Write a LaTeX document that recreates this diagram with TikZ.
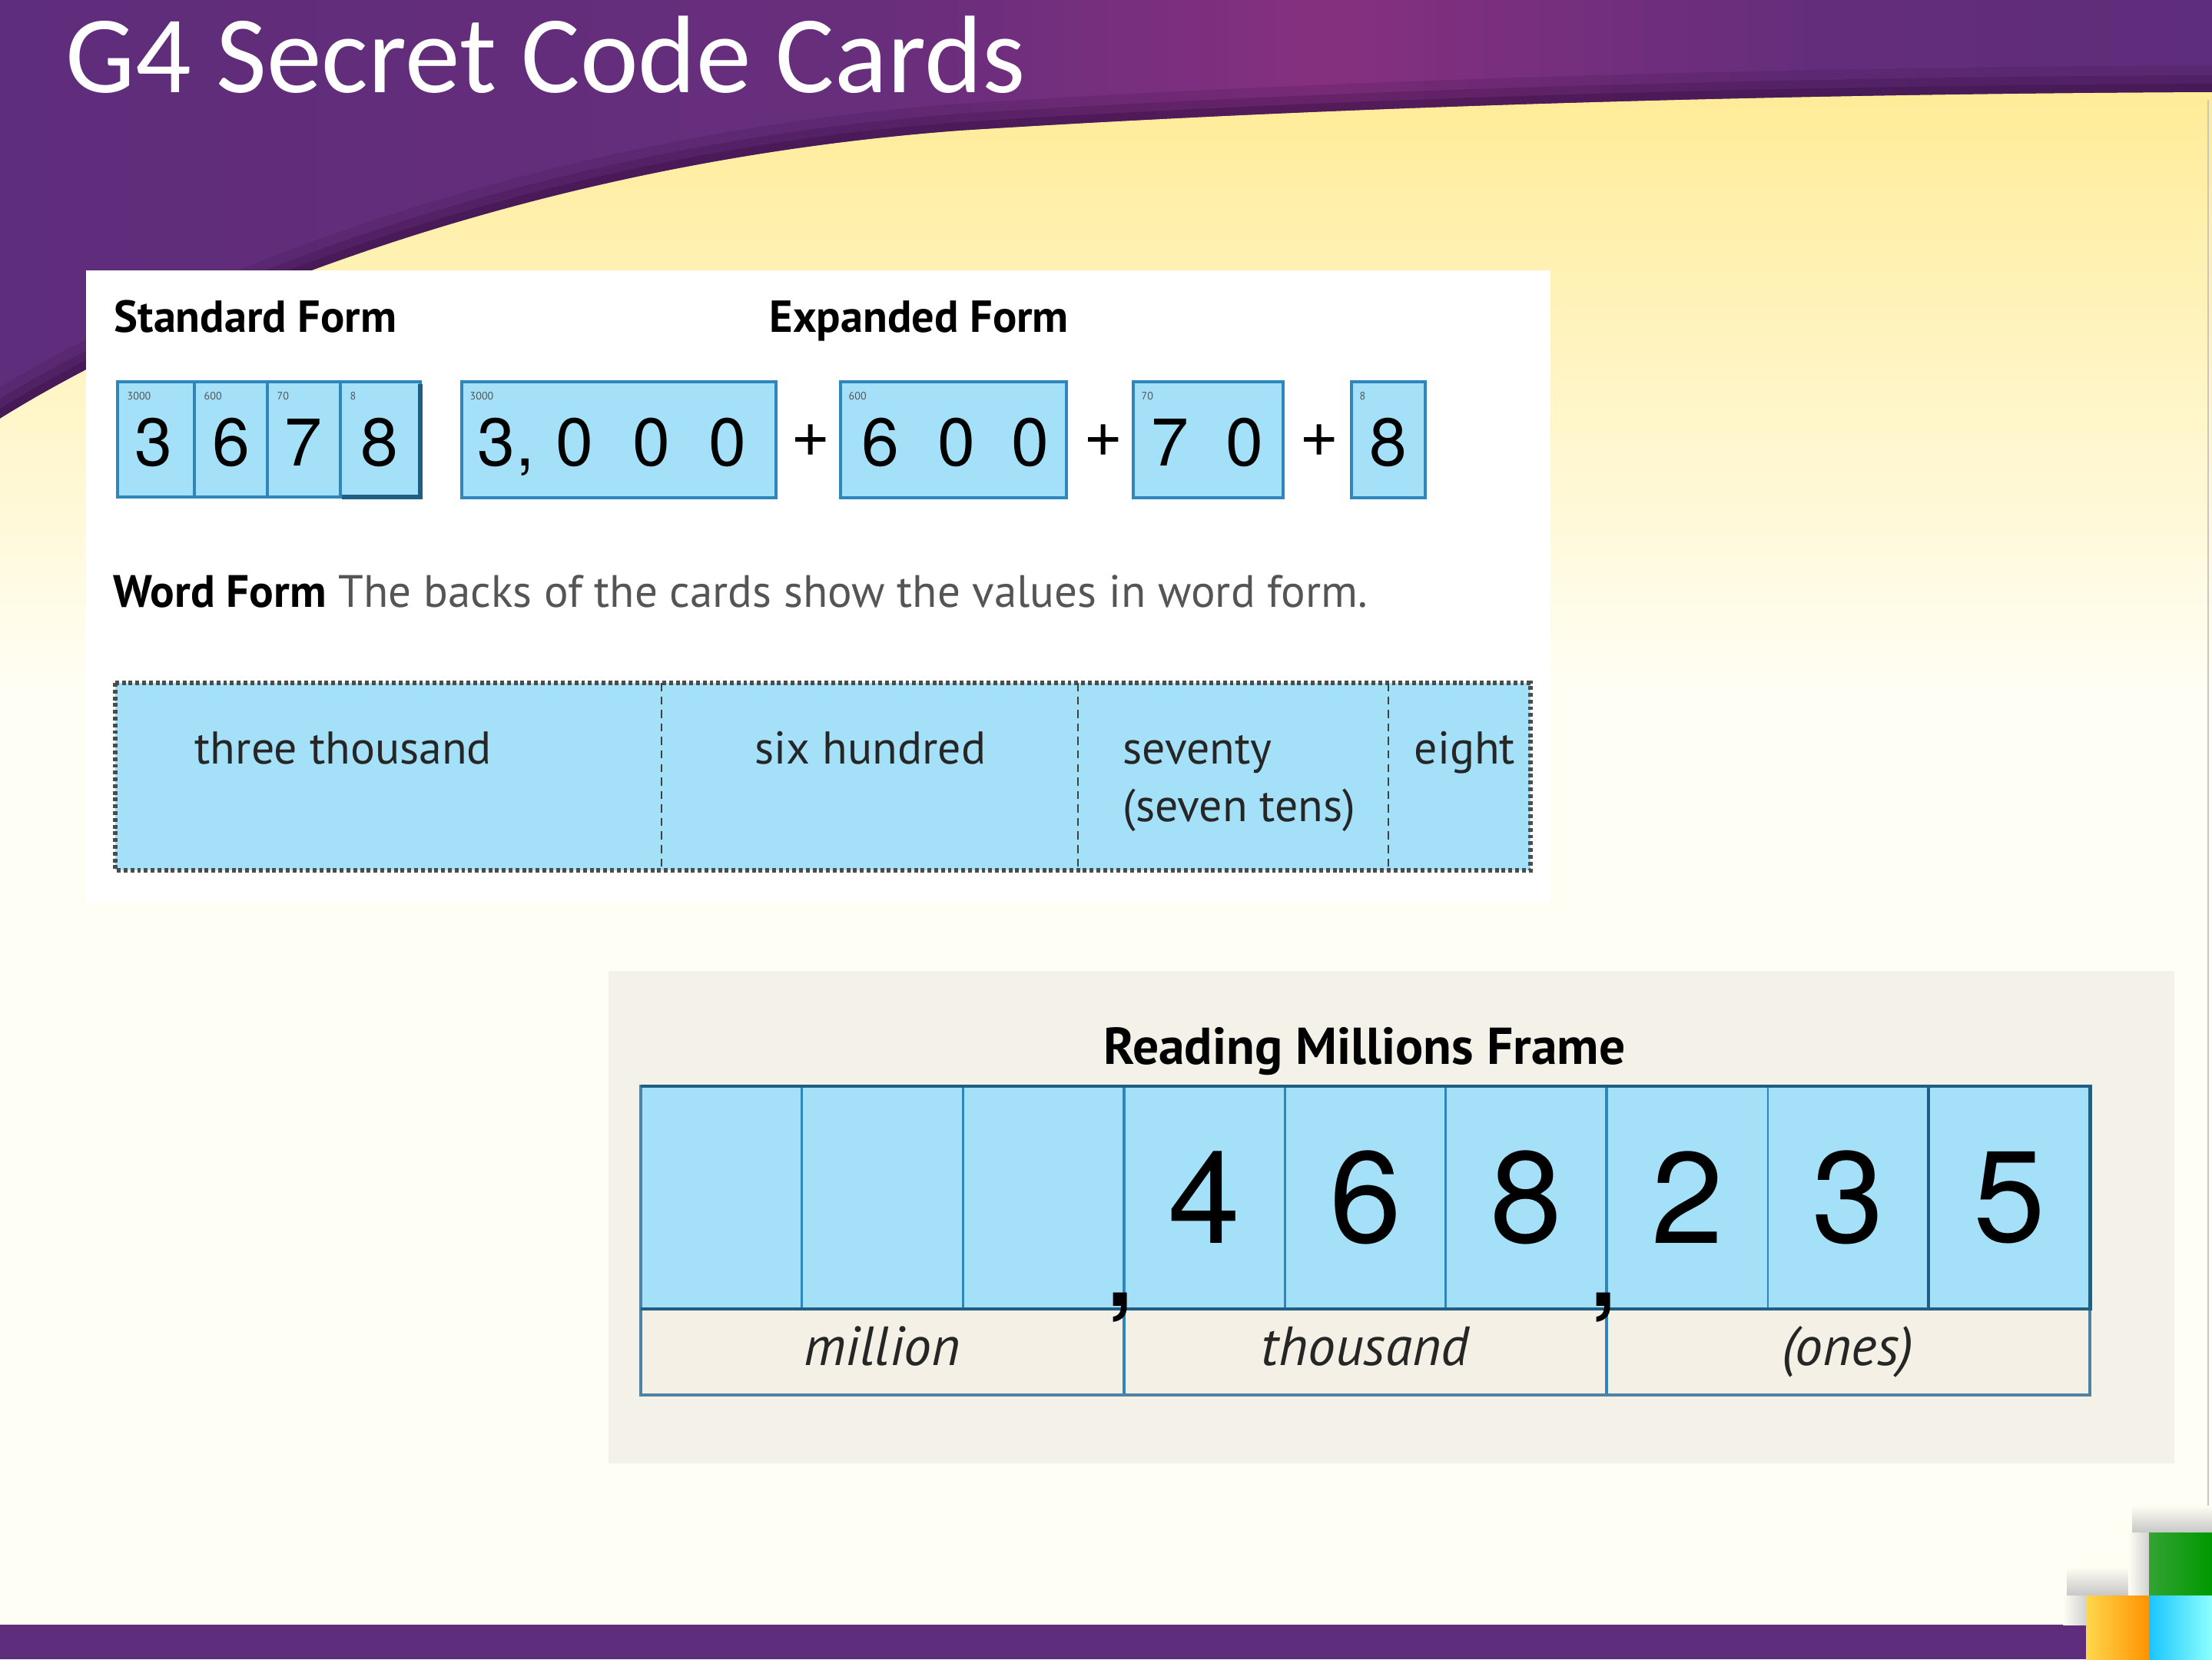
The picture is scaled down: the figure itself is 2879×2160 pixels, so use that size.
\documentclass[tikz,border=0pt]{standalone}
\usepackage{fontspec}
\setmainfont{PT Sans}
\newfontfamily\titlefont{Carlito}
\newfontfamily\digitfont{TeX Gyre Heros}
\usetikzlibrary{positioning}

\definecolor{hdrpurple}{HTML}{5E2D7B}
\definecolor{hdrmagenta}{HTML}{85307F}
\definecolor{hdrdark}{HTML}{3E1248}
\definecolor{creamtop}{HTML}{FFEC98}
\definecolor{creambg}{HTML}{FFFEF4}
\definecolor{cardblue}{HTML}{A4E0F8}
\definecolor{cardedge}{HTML}{2F86BC}
\definecolor{framebg}{HTML}{F3F1E8}
\definecolor{labelbg}{HTML}{F4F0E5}
\definecolor{textgray}{HTML}{555555}

\pgfdeclarehorizontalshading{headershade}{100bp}{color(0bp)=(hdrpurple); color(25bp)=(hdrpurple); color(45bp)=(hdrpurple!75!hdrmagenta); color(55bp)=(hdrmagenta); color(66bp)=(hdrpurple!85!hdrmagenta); color(75bp)=(hdrpurple); color(100bp)=(hdrpurple)}
\pgfdeclareverticalshading{creamshade}{100bp}{color(0bp)=(creambg); color(25bp)=(creambg); color(56bp)=(creambg); color(75bp)=(creamtop); color(100bp)=(creamtop)}

\tikzset{
  card/.style={fill=cardblue, draw=cardedge, line width=1.1pt},
  digit/.style={font=\digitfont\fontsize{25}{30}\selectfont, inner sep=0pt},
  bigdigit/.style={font=\digitfont\fontsize{48}{56}\selectfont, inner sep=0pt},
  tinylabel/.style={anchor=north west, font=\fontsize{4}{5}\selectfont, text=textgray, inner sep=0pt},
  heading/.style={anchor=base west, font=\bfseries\fontsize{16.6}{20}\selectfont, inner sep=0pt},
  wordtext/.style={anchor=base west, font=\fontsize{17}{20}\selectfont, text=black!85, inner sep=0pt},
  placelabel/.style={anchor=base, font=\itshape\fontsize{20.4}{24}\selectfont, text=black!85, inner sep=0pt}
}

\begin{document}
\begin{tikzpicture}[x=0.01cm, y=-0.01cm]
\useasboundingbox (0,0) rectangle (2879,2160);
\fill[creambg] (0,0) rectangle (2879,2160);

% header
\shade[shading=headershade] (0,0) -- (2879,0) -- (2879,120)
  .. controls (2400,122) and (1800,135) .. (1250,170)
  .. controls (650,215) and (200,420) .. (0,545) -- cycle;
\foreach \w/\o in {70/0.18,44/0.28,22/0.45}
  \draw[hdrdark, line width=\w*0.2845pt, opacity=\o] (2879,120)
    .. controls (2400,122) and (1800,135) .. (1250,170)
    .. controls (650,215) and (200,420) .. (0,545);
\shade[shading=creamshade] (0,545) .. controls (200,420) and (650,215) .. (1250,170)
  .. controls (1800,135) and (2400,122) .. (2879,120) -- (2879,2160) -- (0,2160) -- cycle;
\node[anchor=base west, text=white, font=\titlefont\fontsize{40.8}{48}\selectfont, inner sep=0pt] (title) at (85,120) {G4 Secret Code Cards};
\draw[gray!45, line width=0.6pt] (2874,130) -- (2874,1995);

% cards panel
\fill[white] (112,352) rectangle (2018,1175);
\node[heading] (stdhead) at (148,432) {Standard Form};
\node[heading] (exphead) at (1001,432) {Expanded Form};

\foreach \x/\v in {153/3000,253/600,348/70,443/8}
  \draw[card] (\x,497) rectangle (547,647);
\draw[cardedge!70!black, line width=1.6pt] (547,500) -- (547,647) -- (445,647);
\foreach \x/\v in {153/3000,253/600,348/70,443/8}
  \node[tinylabel] at (\x+12,510) {\v};
\node[digit] (s1) at (200,576) {3};
\node[digit] (s2) at (301,576) {6};
\node[digit] (s3) at (395,576) {7};
\node[digit] (s4) at (494,576) {8};

\draw[card] (601,497) rectangle (1010,648);
\draw[card] (1094,497) rectangle (1388,648);
\draw[card] (1475,497) rectangle (1670,648);
\draw[card] (1759,497) rectangle (1855,648);
\node[tinylabel] at (611,510) {3000};
\node[tinylabel] at (1104,510) {600};
\node[tinylabel] at (1485,510) {70};
\node[tinylabel] at (1769,510) {8};
\node[digit] (e1) at (646,576) {3};
\node[digit, anchor=base west] (ec) at (e1.base east) {,};
\foreach \x [count=\i] in {748,848,947}
  \node[digit] (ez\i) at (\x,576) {0};
\node[digit] (f1) at (1146,576) {6};
\node[digit] (f2) at (1245,576) {0};
\node[digit] (f3) at (1341,576) {0};
\node[digit] (g1) at (1523,576) {7};
\node[digit] (g2) at (1620,576) {0};
\node[digit] (h1) at (1807,576) {8};
\node[digit] (p1) at (1055,574) {+};
\node[digit] (p2) at (1436,574) {+};
\node[digit] (p3) at (1717,574) {+};

\node[anchor=base west, font=\fontsize{16.8}{20}\selectfont, inner sep=0pt] (wordline) at (147,790)
  {\textbf{Word Form} \textcolor{textgray}{The backs of the cards show the values in word form.}};

\fill[cardblue] (150,889) rectangle (1992,1133);
\draw[black!70, line width=1.9pt, dash pattern=on 1.4pt off 1.1pt] (150,889) rectangle (1992,1133);
\foreach \x in {861,1403,1807}
  \draw[black!75, line width=0.7pt, dash pattern=on 3pt off 2pt] (\x,889) -- (\x,1133);
\node[wordtext] (w1) at (253,994) {three thousand};
\node[wordtext] (w2) at (982,994) {six hundred};
\node[wordtext] (w3) at (1461,994) {seventy};
\node[wordtext] (w4) at (1461,1069) {(seven tens)};
\node[wordtext] (w5) at (1840,994) {eight};

% reading millions frame
\fill[framebg] (792,1264) rectangle (2830,1905);
\node[anchor=base, font=\bfseries\fontsize{19.2}{23}\selectfont, inner sep=0pt] (framehead) at (1776,1385) {Reading Millions Frame};
\fill[cardblue] (834,1414) rectangle (2720,1704);
\fill[labelbg] (834,1704) rectangle (2720,1816);
\foreach \i in {1,2,4,5,7,8}
  \draw[cardedge, line width=0.8pt] ({834+\i*209.56},1414) -- ({834+\i*209.56},1704);
\foreach \i in {3,6}
  \draw[cardedge, line width=1.1pt] ({834+\i*209.56},1414) -- ({834+\i*209.56},1816);
\draw[cardedge!60!gray, line width=0.9pt] (834,1414) rectangle (2720,1816);
\draw[cardedge!70!black, line width=1.4pt] (834,1704) -- (2720,1704);
\draw[cardedge!70!black, line width=1.4pt] (2510,1414) rectangle (2720,1704);
\draw[cardedge!70!black, line width=1.2pt] (834,1414) -- (2720,1414);
\foreach \d [count=\i from 4] in {4,6,8,2,3,5}
  \node[bigdigit] (m\i) at ({834+(\i-0.5)*209.56},1559) {\d};
\node[anchor=base, font=\digitfont\bfseries\fontsize{34}{40}\selectfont, inner sep=0pt] (comma1) at (1458,1700) {,};
\node[anchor=base, font=\digitfont\bfseries\fontsize{34}{40}\selectfont, inner sep=0pt] (comma2) at (2087,1700) {,};
\node[placelabel] (lmillion) at (1148,1777) {million};
\node[placelabel] (lthousand) at (1777,1777) {thousand};
\node[placelabel] (lones) at (2405,1777) {(ones)};

% footer
\fill[hdrpurple] (0,2115) rectangle (2715,2160);
\shade[top color=creambg, bottom color=black!22] (2690,2040) rectangle (2797,2077);
\shade[top color=creambg, bottom color=black!22] (2775,1960) rectangle (2879,1995);
\shade[left color=creambg, right color=black!18] (2685,2077) rectangle (2715,2115);
\shade[left color=creambg, right color=black!18] (2770,1995) rectangle (2797,2077);
\shade[left color=orange!45!yellow!70, right color=orange!85!yellow] (2715,2077) rectangle (2797,2160);
\shade[left color=green!55!black!80!white, right color=green!60!black] (2797,1995) rectangle (2879,2077);
\shade[left color=cyan!75!blue!90, right color=cyan!45] (2797,2077) rectangle (2879,2160);
\end{tikzpicture}
\end{document}
